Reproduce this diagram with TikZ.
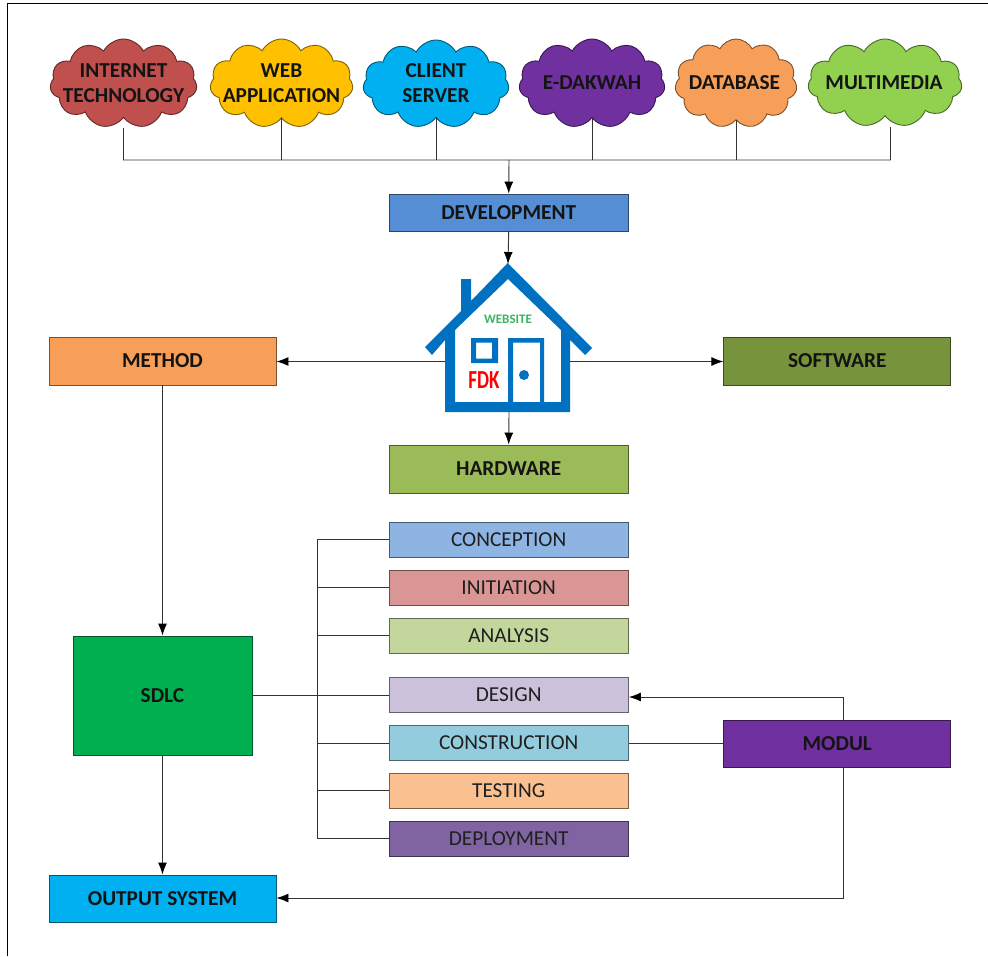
\documentclass[tikz,border=0pt]{standalone}
\usepackage{fontspec}
\setmainfont{Carlito}
\usetikzlibrary{shapes.symbols,arrows.meta,calc}
\definecolor{hblue}{HTML}{0070C0}
\definecolor{c1}{HTML}{C0504D}
\definecolor{c2}{HTML}{FFC000}
\definecolor{c3}{HTML}{00B0F0}
\definecolor{c4}{HTML}{7030A0}
\definecolor{c5}{HTML}{F79F58}
\definecolor{c6}{HTML}{92D050}
\definecolor{cdev}{HTML}{558ED5}
\definecolor{csoft}{HTML}{77933C}
\definecolor{chard}{HTML}{9BBB59}
\definecolor{csdlc}{HTML}{00B050}
\definecolor{ccon}{HTML}{8EB4E3}
\definecolor{cini}{HTML}{D99694}
\definecolor{cana}{HTML}{C3D69B}
\definecolor{cdes}{HTML}{CCC1DA}
\definecolor{ccons}{HTML}{93CDDD}
\definecolor{ctes}{HTML}{FAC090}
\definecolor{cdep}{HTML}{8064A2}
\tikzset{
 x=1pt,y=-1pt,
 boxb/.style={draw=#1!50!black,line width=0.9pt,fill=#1,inner sep=0pt,font=\fontsize{21.3}{24}\selectfont\bfseries,text=black!92},
 boxr/.style={draw=#1!50!black,line width=0.9pt,fill=#1,inner sep=0pt,font=\fontsize{21.3}{24}\selectfont,text=black!88,minimum width=239.5pt,minimum height=35pt},
 cl/.style={cloud,cloud puffs=11,cloud puff arc=125,cloud ignores aspect,draw=#1!50!black,line width=0.9pt,fill=#1,inner sep=0pt,outer sep=0pt},
 cltext/.style={align=center,inner sep=0pt,font=\fontsize{21.3}{25}\selectfont\bfseries,text=black!92},
 conn/.style={draw=black!80,line width=0.9pt},
 arr/.style={conn,-{Latex[length=12pt,width=9pt,black]}}
}
\begin{document}
\begin{tikzpicture}
\useasboundingbox (0,0) rectangle (988,956);
\fill[white] (0,0) rectangle (988,956);
\draw[black,line width=1pt] (7.5,956) -- (7.5,3.5) -- (988,3.5);
% clouds
\node[cl=c1,minimum width=147pt,minimum height=89pt] (a1) at (123.5,83.5) {};
\node[cl=c2,minimum width=143pt,minimum height=89pt] (a2) at (281.5,83.5) {};
\node[cl=c3,minimum width=146pt,minimum height=88pt] (a3) at (436,84) {};
\node[cl=c4,minimum width=146pt,minimum height=89pt] (a4) at (592,83.5) {};
\node[cl=c5,minimum width=122pt,minimum height=89pt] (a5) at (736,83.5) {};
\node[cl=c6,minimum width=154pt,minimum height=88pt] (a6) at (885,83) {};
\node[cltext] (t1) at (123.5,83) {INTERNET\\TECHNOLOGY};
\node[cltext] (t2) at (281.5,83) {WEB\\APPLICATION};
\node[cltext] (t3) at (436,83) {CLIENT\\SERVER};
\node[cltext] (t4) at (592,83) {E-DAKWAH};
\node[cltext] (t5) at (734.5,83) {DATABASE};
\node[cltext] (t6) at (884,83) {MULTIMEDIA};
% boxes
\node[boxb=cdev,minimum width=239.5pt,minimum height=37pt] (dev) at (508.7,212.5) {DEVELOPMENT};
\node[boxb=c5,minimum width=227pt,minimum height=48pt] (method) at (162.5,361) {METHOD};
\node[boxb=csoft,minimum width=227pt,minimum height=48pt] (soft) at (837.3,361) {SOFTWARE};
\node[boxb=chard,minimum width=239.5pt,minimum height=48pt] (hard) at (508.7,469) {HARDWARE};
\node[boxb=csdlc,minimum width=179pt,minimum height=119pt] (sdlc) at (162.5,695.5) {SDLC};
\node[boxb=c3,minimum width=227pt,minimum height=47pt] (out) at (162.5,898.5) {OUTPUT SYSTEM};
\node[boxb=c4,minimum width=227pt,minimum height=47pt] (modul) at (837.3,743.5) {MODUL};
\node[boxr=ccon] (l1) at (508.7,539.5) {CONCEPTION};
\node[boxr=cini] (l2) at (508.7,587.5) {INITIATION};
\node[boxr=cana] (l3) at (508.7,635.5) {ANALYSIS};
\node[boxr=cdes] (l4) at (508.7,695) {DESIGN};
\node[boxr=ccons] (l5) at (508.7,743) {CONSTRUCTION};
\node[boxr=ctes] (l6) at (508.7,790.5) {TESTING};
\node[boxr=cdep] (l7) at (508.7,838.5) {DEPLOYMENT};
% house
\path[fill=hblue,even odd rule]
  (507.7,263) -- (592,348) -- (585,355) -- (570,340) -- (570,412) -- (445,412) -- (445,340) -- (432,355) -- (425,347) -- (461,311) -- (461,279) -- (471,279) -- (471,301) -- cycle
  (508,279) -- (561,330) -- (561,402) -- (455,402) -- (455,330) -- cycle;
\path[fill=hblue,even odd rule] (471,338) rectangle (498,363) (476,342.5) rectangle (492,358.5);
\path[fill=hblue] (508,338) -- (544,338) -- (544,402) -- (540,402) -- (540,342.5) -- (513,342.5) -- (513,402) -- (508,402) -- cycle;
\fill[hblue] (524,375) circle (5pt);
\node[inner sep=0pt,font=\fontsize{13}{15}\selectfont\bfseries,text={rgb,255:red,60;green,180;blue,100}] (web) at (508,319) {WEBSITE};
\node[inner sep=0pt,font=\fontsize{26}{28}\selectfont\bfseries,text=red,xscale=0.73] (fdk) at (484,380) {FDK};
\coordinate (hT) at (508,264);
\coordinate (hL) at (445,361.5);
\coordinate (hR) at (570,361.5);
\coordinate (hB) at (509,412);
% bus from clouds
\coordinate (bus) at (509,160);
\draw[conn] (a1.south |- 0,128) -- (123.5,160) -- (890.5,160) -- (890.5,127);
\draw[conn] (a2.south) -- (a2.south |- bus);
\draw[conn] (a3.south) -- (a3.south |- bus);
\draw[conn] (a4.south) -- (a4.south |- bus);
\draw[conn] (a5.south) -- (a5.south |- bus);
\draw[arr] (bus) -- (dev.north);
\draw[arr] (dev.south) -- (hT);
\draw[arr] (hL) -- (method.east |- hL);
\draw[arr] (hR) -- (soft.west |- hR);
\draw[arr] (hB) -- (hard.north);
\draw[arr] (method.south) -- (sdlc.north);
\draw[arr] (sdlc.south) -- (out.north);
\coordinate (sb) at (317,695);
\draw[conn] (sdlc.east) -- (l4.west |- sdlc.east);
\draw[conn] (l1.west) -- (sb |- l1.west) -- (sb |- l7.west) -- (l7.west);
\draw[conn] (l2.west) -- (sb |- l2.west);
\draw[conn] (l3.west) -- (sb |- l3.west);
\draw[conn] (l5.west) -- (sb |- l5.west);
\draw[conn] (l6.west) -- (sb |- l6.west);
\draw[conn] (l5.east) -- (modul.west |- l5.east);
\coordinate (mt) at (843,697);
\coordinate (mb) at (843,898);
\draw[arr] (modul.north -| mt) -- (mt) -- (l4.east |- mt);
\draw[arr] (modul.south -| mb) -- (mb) -- (out.east |- mb);
\end{tikzpicture}
\end{document}
